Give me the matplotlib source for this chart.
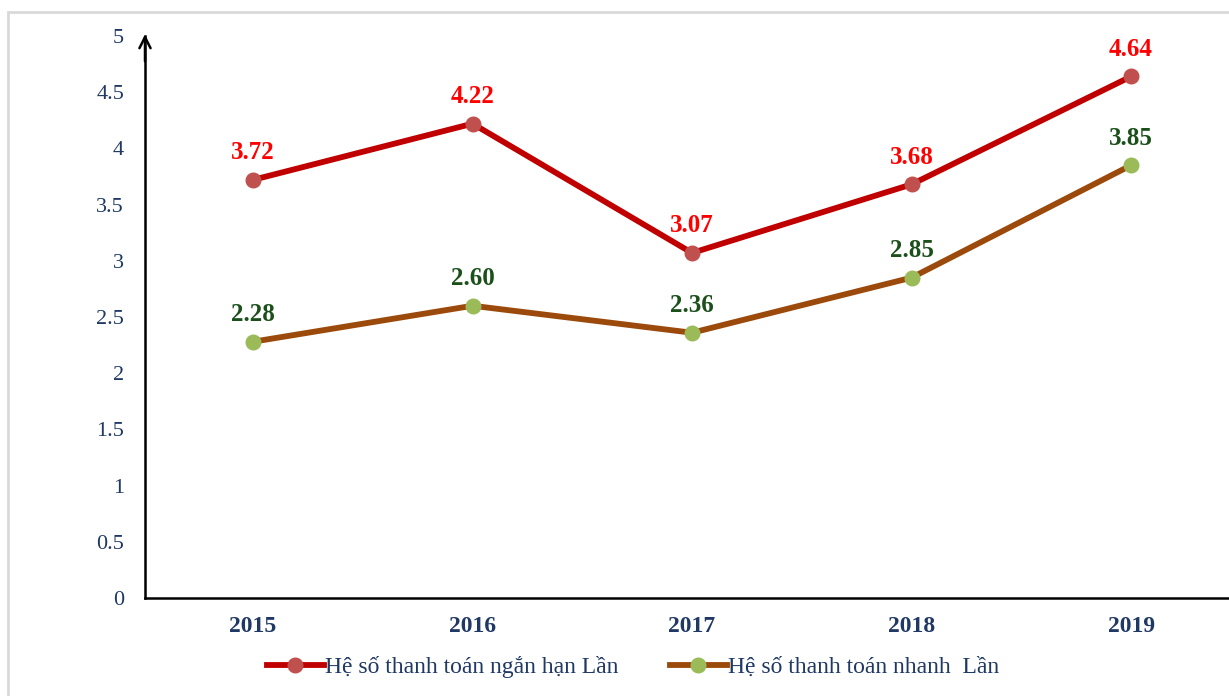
import matplotlib.pyplot as plt
from matplotlib.patches import Rectangle

plt.rcParams['font.family'] = ['Liberation Serif', 'DejaVu Serif']

years = ['2015', '2016', '2017', '2018', '2019']
ngan_han = [3.72, 4.22, 3.07, 3.68, 4.64]
nhanh = [2.28, 2.60, 2.36, 2.85, 3.85]
y_ticks = [0, 0.5, 1, 1.5, 2, 2.5, 3, 3.5, 4, 4.5, 5]
label_1 = 'Hệ số thanh toán ngắn hạn Lần'
label_2 = 'Hệ số thanh toán nhanh  Lần'

navy = '#1F3864'

fig = plt.figure(figsize=(12.29, 6.96), dpi=100)
# light grey outer frame
fig.patches.append(Rectangle((8 / 1229, -0.1), 1.2, 1 - 12 / 696 + 0.1,
                             transform=fig.transFigure, fill=False,
                             edgecolor='#D9D9D9', linewidth=2))

ax = fig.add_axes([145 / 1229, 98 / 696, 1 - 145 / 1229, (598 - 36) / 696])
x = list(range(len(years)))

ax.plot(x, ngan_han, color='#C00000', linewidth=4.2, marker='o', markersize=10.5,
        markerfacecolor='#C0504D', markeredgecolor='#C0504D', label=label_1, zorder=3)
ax.plot(x, nhanh, color='#9C4A0C', linewidth=4.2, marker='o', markersize=10.5,
        markerfacecolor='#9BBB59', markeredgecolor='#9BBB59', label=label_2, zorder=3)

for xi, v in zip(x, ngan_han):
    ax.annotate(f'{v:.2f}', (xi, v), xytext=(0, 19.5), textcoords='offset points',
                ha='center', va='center', color='#FF0000', fontsize=18, fontweight='bold')
for xi, v in zip(x, nhanh):
    ax.annotate(f'{v:.2f}', (xi, v), xytext=(0, 19.5), textcoords='offset points',
                ha='center', va='center', color='#1B501B', fontsize=18, fontweight='bold')

ax.set_xlim(-0.492, 4.446)
ax.set_ylim(0, 5)
ax.set_xticks(x)
ax.set_xticklabels(years, fontsize=17, fontweight='bold', color=navy)
ax.set_yticks(y_ticks)
ax.set_yticklabels([f'{t:g}' for t in y_ticks], fontsize=16, color=navy)
ax.tick_params(axis='both', length=0)
ax.tick_params(axis='y', pad=15)
ax.tick_params(axis='x', pad=13)

for s in ['top', 'right']:
    ax.spines[s].set_visible(False)
ax.spines['left'].set_linewidth(1.8)
ax.spines['bottom'].set_linewidth(1.8)
ax.spines['left'].set_zorder(4)
ax.annotate('', xy=(0, 1.008), xytext=(0, 0.95), xycoords='axes fraction',
            arrowprops=dict(arrowstyle='->', color='black', lw=1.8,
                            mutation_scale=20), annotation_clip=False)

leg = fig.legend(loc='center', bbox_to_anchor=(0.515, 1 - 667 / 696), ncol=2,
                 frameon=False, fontsize=17, handlelength=2.4, handletextpad=0.05,
                 columnspacing=2.2)
for t in leg.get_texts():
    t.set_color(navy)

fig.savefig('out.png', dpi=100, facecolor='white')
